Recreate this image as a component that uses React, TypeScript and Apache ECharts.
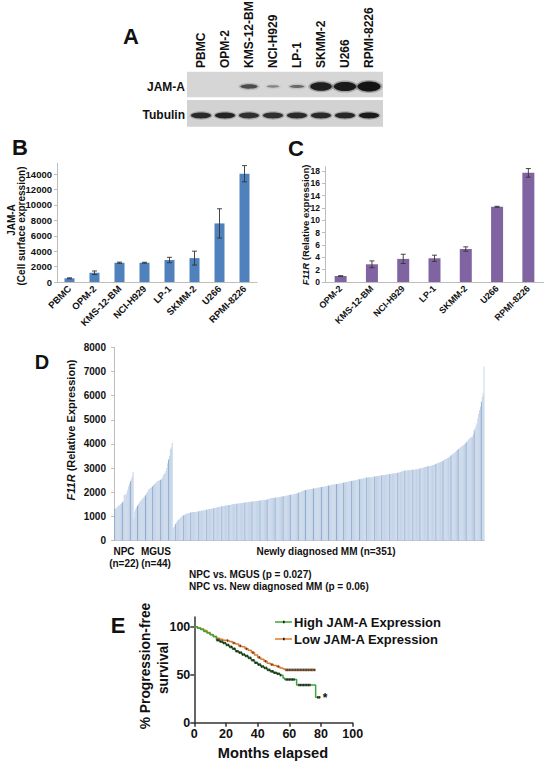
import React, { useEffect, useRef } from 'react';
import * as echarts from 'echarts';

const FONT = '"Liberation Sans", Arial, Helvetica, sans-serif';

// ---------- Panel A (western blot) ----------
const blotLanes = ['PBMC', 'OPM-2', 'KMS-12-BM', 'NCI-H929', 'LP-1', 'SKMM-2', 'U266', 'RPMI-8226'];
const jamABand = [0, 0, 0.55, 0.18, 0.35, 0.9, 0.95, 1];
const tubulinBand = [0.85, 0.9, 0.82, 0.82, 0.85, 0.85, 0.87, 0.95];

// ---------- Panel B ----------
const catsB = ['PBMC', 'OPM-2', 'KMS-12-BM', 'NCI-H929', 'LP-1', 'SKMM-2', 'U266', 'RPMI-8226'];
const valsB = [480, 1200, 2500, 2500, 2850, 3100, 7600, 14050];
const errB = [60, 230, 80, 60, 350, 900, 1900, 1050];

// ---------- Panel C ----------
const catsC = ['OPM-2', 'KMS-12-BM', 'NCI-H929', 'LP-1', 'SKMM-2', 'U266', 'RPMI-8226'];
const valsC = [0.97, 2.87, 3.75, 3.85, 5.35, 12.2, 17.7];
const errC = [0.05, 0.55, 0.75, 0.5, 0.35, 0.08, 0.7];

// ---------- Panel D ----------
const npcVals = [1300, 1320, 1340, 1380, 1420, 1450, 1470, 1500, 1530, 1580, 1620, 1880, 1890, 1900, 1980, 2100, 2250, 2350, 2450, 2550, 2650, 2850];
const mgusVals = [900, 1200, 1300, 1380, 1450, 1500, 1560, 1620, 1670, 1700, 1750, 1780, 1820, 1870, 1950, 2000, 2080, 2120, 2150, 2170, 2200, 2250, 2300, 2340, 2360, 2400, 2440, 2460, 2480, 2500, 2520, 2540, 2600, 2700, 2750, 2800, 2880, 3000, 3200, 3350, 3500, 3780, 3850, 4050];
const mmVals = [
  510, 560, 620, 690, 760, 820, 860, 880, 920, 960,
  990, 1020, 1050, 1070, 1090, 1110, 1120, 1130, 1140, 1150,
  1160, 1165, 1170, 1175, 1180, 1185, 1190, 1195, 1200, 1210,
  1220, 1225, 1235, 1240, 1245, 1250, 1260, 1270, 1275, 1280,
  1290, 1300, 1305, 1315, 1320, 1330, 1340, 1350, 1360, 1370,
  1375, 1385, 1390, 1400, 1410, 1415, 1420, 1430, 1440, 1445,
  1450, 1455, 1460, 1470, 1475, 1480, 1490, 1500, 1505, 1510,
  1515, 1520, 1525, 1530, 1535, 1540, 1545, 1550, 1555, 1560,
  1565, 1570, 1575, 1580, 1585, 1590, 1595, 1600, 1605, 1610,
  1615, 1620, 1625, 1630, 1635, 1640, 1645, 1650, 1655, 1660,
  1665, 1670, 1675, 1678, 1680, 1690, 1700, 1710, 1720, 1735,
  1750, 1755, 1760, 1765, 1770, 1775, 1780, 1785, 1790, 1800,
  1805, 1810, 1815, 1820, 1828, 1836, 1844, 1852, 1860, 1868,
  1875, 1882, 1890, 1897, 1905, 1912, 1920, 1930, 1940, 1950,
  1960, 1975, 1990, 2005, 2020, 2035, 2050, 2070, 2078, 2086,
  2094, 2100, 2108, 2115, 2122, 2130, 2137, 2144, 2150, 2157,
  2164, 2171, 2178, 2185, 2192, 2200, 2207, 2214, 2221, 2228,
  2235, 2242, 2250, 2258, 2266, 2274, 2282, 2290, 2298, 2306,
  2314, 2320, 2326, 2332, 2336, 2340, 2348, 2356, 2364, 2372,
  2380, 2388, 2396, 2404, 2412, 2420, 2428, 2436, 2444, 2452,
  2460, 2468, 2476, 2484, 2492, 2500, 2508, 2516, 2524, 2532,
  2540, 2548, 2556, 2564, 2572, 2580, 2588, 2596, 2604, 2612,
  2616, 2618, 2620, 2626, 2632, 2638, 2644, 2650, 2656, 2662,
  2668, 2674, 2680, 2686, 2692, 2698, 2704, 2710, 2716, 2722,
  2728, 2734, 2740, 2746, 2752, 2758, 2764, 2770, 2776, 2782,
  2788, 2794, 2800, 2806, 2812, 2820, 2836, 2852, 2868, 2880,
  2890, 2894, 2898, 2902, 2906, 2910, 2914, 2918, 2922, 2926,
  2930, 2934, 2938, 2942, 2946, 2950, 2960, 2970, 2980, 2990,
  3000, 3010, 3020, 3030, 3040, 3050, 3060, 3070, 3080, 3090,
  3100, 3110, 3120, 3130, 3145, 3160, 3175, 3190, 3205, 3220,
  3235, 3250, 3265, 3280, 3300, 3330, 3350, 3370, 3390, 3415,
  3440, 3460, 3500, 3530, 3560, 3590, 3610, 3640, 3680, 3720,
  3750, 3780, 3810, 3840, 3870, 3900, 3925, 3950, 3990, 4030,
  4070, 4110, 4150, 4190, 4230, 4260, 4280, 4300, 4400, 4550,
  4650, 4750, 4850, 5050, 5250, 5400, 5540, 5750, 5950, 6100, 7200,
];

// ---------- Panel E (Kaplan-Meier) ----------
const highKM = [[0, 100], [2, 98.5], [4, 97], [6, 95], [8, 93.5], [10, 91.5], [12, 89.5], [14, 86], [16, 84.5], [18, 83], [20, 81], [22, 79], [24, 77], [26, 74.5], [28, 73], [30, 71], [32, 69.5], [34, 67.5], [36, 65], [38, 62.5], [40, 60.5], [42, 58.5], [44, 57], [46, 55], [48, 53.5], [50, 52], [52, 51], [54, 49.5], [56, 46.5], [57, 45], [64.6, 39.2], [76.6, 26.4], [79.8, 26.4]];
const lowKM = [[0, 100], [2, 99], [4, 97.5], [6, 96], [8, 94], [10, 92], [12, 90], [14, 88], [16, 87], [18, 86], [20, 85.5], [22, 84.5], [24, 83], [26, 82], [28, 80], [30, 79], [32, 77], [34, 75.5], [36, 73], [38, 70.5], [40, 68], [42, 66], [44, 64], [46, 62], [48, 60.5], [50, 59.5], [52, 58.5], [54, 57], [56, 56], [57.3, 55], [76.6, 55]];
const highCensor = [[14.5, 86], [15.5, 86], [16.5, 84.5], [17.5, 84.5], [18.5, 83], [19.5, 83], [20.5, 81], [21.5, 81], [22.5, 79], [23.5, 79], [24.5, 77], [25.5, 77], [26.5, 74.5], [27.5, 74.5], [28.5, 73], [29.5, 73], [30.5, 71], [31.5, 71], [32.5, 69.5], [33.5, 69.5], [34.5, 67.5], [35.5, 67.5], [36.5, 65], [37.5, 65], [38.5, 62.5], [39.5, 62.5], [40.5, 60.5], [41.5, 60.5], [42.5, 58.5], [43.5, 58.5], [44.5, 57], [45.5, 57], [46.5, 55], [47.5, 55], [48.5, 53.5], [49.5, 53.5], [50.5, 52], [51.5, 52], [52.5, 51], [53.5, 51], [54.5, 49.5], [58, 45], [59, 45], [60, 45], [61, 45], [62, 45], [63, 45], [66, 39.2], [67, 39.2], [68, 39.2], [69, 39.2], [70, 39.2], [71, 39.2], [72, 39.2], [73, 39.2], [78, 26.4], [79, 26.4]];
const lowCensor = [[21, 85.5], [25, 83], [29, 80], [33, 77], [37, 73], [41, 68], [45, 64], [49, 60.5], [53, 58.5], [58, 55], [59, 55], [60, 55], [61, 55], [62, 55], [63, 55], [64, 55], [65, 55], [66, 55], [67, 55], [68, 55], [69, 55], [70, 55], [71, 55], [72, 55], [73, 55], [74, 55], [75, 55], [76, 55]];

const GREEN = '#3aa63a';
const ORANGE = '#e0782a';

function txt(x: number, y: number, text: string, size: number, opts: any = {}) {
  const align = opts.align || 'center';
  const va = opts.va || 'middle';
  return {
    type: 'text',
    x,
    y,
    rotation: opts.rot || 0,
    silent: true,
    z: 100,
    style: {
      text,
      fontSize: size,
      fontWeight: opts.weight || 'bold',
      fontFamily: FONT,
      fill: opts.fill || '#111',
      align,
      verticalAlign: va,
      textAlign: align,
      textVerticalAlign: va,
      rich: opts.rich,
    },
  };
}

function errorSeries(xIdx: number, vals: number[], errs: number[], capW: number) {
  return {
    type: 'custom',
    xAxisIndex: xIdx,
    yAxisIndex: xIdx,
    data: vals.map((v, i) => [i, v - errs[i], v + errs[i]]),
    z: 5,
    renderItem: (params: any, api: any) => {
      const i = api.value(0);
      const lo = api.coord([i, api.value(1)]);
      const hi = api.coord([i, api.value(2)]);
      const st = { stroke: '#333', lineWidth: 0.9 };
      return {
        type: 'group',
        children: [
          { type: 'line', shape: { x1: hi[0], y1: hi[1], x2: lo[0], y2: lo[1] }, style: st },
          { type: 'line', shape: { x1: hi[0] - capW, y1: hi[1], x2: hi[0] + capW, y2: hi[1] }, style: st },
          { type: 'line', shape: { x1: lo[0] - capW, y1: lo[1], x2: lo[0] + capW, y2: lo[1] }, style: st },
        ],
      };
    },
  };
}

function buildOption() {
  const dValues = [...npcVals, ...mgusVals, ...mmVals];
  const dCats = dValues.map((_, i) => String(i));
  const isStripe = (i: number) => Math.floor(i / 8.6) !== Math.floor((i - 1) / 8.6);
  const dData = dValues.map((v, i) => ({
    value: v,
    itemStyle: { color: isStripe(i) ? '#8aa5cc' : '#c3d3e7' },
  }));

  const grayAxis = { lineStyle: { color: '#bdbdbd', width: 1 } };
  const plain = (v: number) => String(v);
  const tickLabel = (size: number, margin: number) => ({
    fontSize: size,
    fontWeight: 'bold',
    fontFamily: FONT,
    color: '#111',
    margin,
  });

  const graphic: any[] = [];

  // Panel letters
  graphic.push(txt(131, 36, 'A', 22));
  graphic.push(txt(20, 147, 'B', 22));
  graphic.push(txt(296, 148, 'C', 22));
  graphic.push(txt(42, 362, 'D', 20));
  graphic.push(txt(118, 625, 'E', 22));

  // Panel A blot
  const laneX0 = 201;
  const laneStep = 24;
  graphic.push({ type: 'rect', shape: { x: 187, y: 71.7, width: 196, height: 25.6 }, style: { fill: '#d6d6d6' }, silent: true });
  graphic.push({ type: 'rect', shape: { x: 187, y: 100, width: 196, height: 26.7 }, style: { fill: '#d2d2d2' }, silent: true });
  blotLanes.forEach((name, i) => {
    const cx = laneX0 + laneStep * i;
    graphic.push(txt(cx, 68, name, 12, { rot: Math.PI / 2, align: 'left' }));
    const v = jamABand[i];
    if (v > 0) {
      const w = 10 + 13 * v;
      const h = 2 + 8 * v * v;
      graphic.push({ type: 'ellipse', shape: { cx, cy: 86.5, rx: w / 2 + 2, ry: h / 2 + 1.5 }, style: { fill: `rgba(40,40,40,${0.3 * v})` }, silent: true });
      graphic.push({ type: 'ellipse', shape: { cx, cy: 86.5, rx: w / 2, ry: h / 2 }, style: { fill: `rgba(15,15,15,${0.25 + 0.72 * v})` }, silent: true });
    }
    const t = tubulinBand[i];
    graphic.push({ type: 'ellipse', shape: { cx, cy: 115.5, rx: 11.5, ry: 4.2 }, style: { fill: `rgba(50,50,50,${0.3 * t})` }, silent: true });
    graphic.push({ type: 'ellipse', shape: { cx, cy: 115.5, rx: 10, ry: 2.9 }, style: { fill: `rgba(20,20,20,${t})` }, silent: true });
  });
  graphic.push(txt(185, 87, 'JAM-A', 12, { align: 'right' }));
  graphic.push(txt(185, 115, 'Tubulin', 12, { align: 'right' }));

  // Panel B titles
  graphic.push(txt(11, 220, 'JAM-A', 10, { rot: Math.PI / 2 }));
  graphic.push(txt(21, 226, '(Cell surface expression)', 10, { rot: Math.PI / 2 }));

  // Panel C title
  graphic.push(txt(305, 225, '{i|F11R} (Relative expression)', 9.5, {
    rot: Math.PI / 2,
    rich: { i: { fontStyle: 'italic', fontWeight: 'bold', fontSize: 9.5, fontFamily: FONT, fill: '#111' } },
  }));

  // Panel D titles / labels
  graphic.push(txt(71, 430, '{i|F11R} (Relative Expression)', 11, {
    rot: Math.PI / 2,
    rich: { i: { fontStyle: 'italic', fontWeight: 'bold', fontSize: 11, fontFamily: FONT, fill: '#111' } },
  }));
  graphic.push(txt(124, 551, 'NPC', 10));
  graphic.push(txt(124, 563, '(n=22)', 10));
  graphic.push(txt(156, 551, 'MGUS', 10));
  graphic.push(txt(156, 563, '(n=44)', 10));
  graphic.push(txt(326, 551, 'Newly diagnosed MM (n=351)', 10));
  graphic.push(txt(189, 574, 'NPC vs. MGUS (p = 0.027)', 10, { align: 'left' }));
  graphic.push(txt(189, 586, 'NPC vs. New diagnosed MM (p = 0.06)', 10, { align: 'left' }));

  // Panel E titles / legend
  graphic.push(txt(145, 666, '% Progression-free', 13.8, { rot: Math.PI / 2 }));
  graphic.push(txt(163, 668, 'survival', 13.8, { rot: Math.PI / 2 }));
  graphic.push(txt(273, 753, 'Months elapsed', 14.6));
  graphic.push({ type: 'line', shape: { x1: 275, y1: 622, x2: 292, y2: 622 }, style: { stroke: GREEN, lineWidth: 1.5 }, silent: true });
  graphic.push({ type: 'rect', shape: { x: 283, y: 620.8, width: 1.6, height: 2.4 }, style: { fill: '#111' }, silent: true });
  graphic.push({ type: 'line', shape: { x1: 275, y1: 639, x2: 292, y2: 639 }, style: { stroke: ORANGE, lineWidth: 1.5 }, silent: true });
  graphic.push({ type: 'rect', shape: { x: 283, y: 637.8, width: 1.6, height: 2.4 }, style: { fill: '#111' }, silent: true });
  graphic.push(txt(294, 622, 'High JAM-A Expression', 13, { align: 'left' }));
  graphic.push(txt(294, 639, 'Low JAM-A Expression', 13, { align: 'left' }));
  graphic.push(txt(325, 698, '*', 12));

  return {
    animation: false,
    backgroundColor: '#ffffff',
    grid: [
      { left: 57, top: 163.3, width: 200, height: 118.7 },
      { left: 325, top: 166.7, width: 219, height: 115.3 },
      { left: 114, top: 347.3, width: 370.5, height: 193.2 },
      { left: 194.3, top: 617.1, width: 158.4, height: 105.6 },
    ],
    xAxis: [
      {
        type: 'category', gridIndex: 0, data: catsB,
        axisLine: grayAxis, axisTick: { length: 3, lineStyle: { color: '#bdbdbd' } },
        axisLabel: { ...tickLabel(9.5, 5), rotate: 45, interval: 0 },
      },
      {
        type: 'category', gridIndex: 1, data: catsC,
        axisLine: grayAxis, axisTick: { length: 3, lineStyle: { color: '#bdbdbd' } },
        axisLabel: { ...tickLabel(9, 5), rotate: 45, interval: 0 },
      },
      {
        type: 'category', gridIndex: 2, data: dCats,
        axisLine: grayAxis, axisTick: { show: false }, axisLabel: { show: false },
      },
      {
        type: 'value', gridIndex: 3, min: 0, max: 100, interval: 20,
        axisLine: { lineStyle: { color: '#333', width: 1.5 } },
        axisTick: { show: true, length: 4, lineStyle: { color: '#333', width: 1.5 } },
        axisLabel: { ...tickLabel(12.5, 5), formatter: plain }, splitLine: { show: false },
      },
    ],
    yAxis: [
      {
        type: 'value', gridIndex: 0, min: 0, max: 15400, interval: 2000,
        axisLine: { show: true, ...grayAxis }, axisTick: { show: true, length: 3, lineStyle: { color: '#bdbdbd' } },
        axisLabel: { ...tickLabel(9.5, 5), showMaxLabel: false, formatter: plain }, splitLine: { show: false },
      },
      {
        type: 'value', gridIndex: 1, min: 0, max: 18.7, interval: 2,
        axisLine: { show: true, ...grayAxis }, axisTick: { show: true, length: 3, lineStyle: { color: '#bdbdbd' } },
        axisLabel: { ...tickLabel(8.5, 5), showMaxLabel: false, formatter: plain }, splitLine: { show: false },
      },
      {
        type: 'value', gridIndex: 2, min: 0, max: 8000, interval: 1000,
        axisLine: { show: true, ...grayAxis }, axisTick: { show: true, length: 3, lineStyle: { color: '#bdbdbd' } },
        axisLabel: { ...tickLabel(10, 8), formatter: plain }, splitLine: { show: false },
      },
      {
        type: 'value', gridIndex: 3, min: 0, max: 110, interval: 50,
        axisLine: { show: true, lineStyle: { color: '#333', width: 1.5 } },
        axisTick: { show: true, length: 4, lineStyle: { color: '#333', width: 1.5 } },
        axisLabel: { ...tickLabel(12.5, 4), showMaxLabel: false, formatter: plain }, splitLine: { show: false },
      },
    ],
    series: [
      { type: 'bar', xAxisIndex: 0, yAxisIndex: 0, data: valsB, barWidth: 10, itemStyle: { color: '#4f81bd' } },
      errorSeries(0, valsB, errB, 2.5),
      { type: 'bar', xAxisIndex: 1, yAxisIndex: 1, data: valsC, barWidth: 12, itemStyle: { color: '#8064a2' } },
      errorSeries(1, valsC, errC, 2.5),
      { type: 'bar', xAxisIndex: 2, yAxisIndex: 2, data: dData, barCategoryGap: '0%', barWidth: '100%' },
      {
        type: 'line', xAxisIndex: 3, yAxisIndex: 3, data: lowKM, step: 'end', symbol: 'none',
        lineStyle: { color: ORANGE, width: 1.5 }, z: 3,
      },
      {
        type: 'line', xAxisIndex: 3, yAxisIndex: 3, data: highKM, step: 'end', symbol: 'none',
        lineStyle: { color: GREEN, width: 1.5 }, z: 4,
      },
      {
        type: 'scatter', xAxisIndex: 3, yAxisIndex: 3, data: lowCensor, symbol: 'rect',
        symbolSize: [1.4, 2.6], itemStyle: { color: '#3a2a1a' }, z: 5,
      },
      {
        type: 'scatter', xAxisIndex: 3, yAxisIndex: 3, data: highCensor, symbol: 'rect',
        symbolSize: [1.4, 2.6], itemStyle: { color: '#111' }, z: 5,
      },
    ],
    graphic,
  };
}

export default function App() {
  const ref = useRef<HTMLDivElement>(null);
  useEffect(() => {
    if (!ref.current) return;
    const chart = echarts.init(ref.current, null, { renderer: 'svg' });
    chart.setOption(buildOption() as any);
    return () => chart.dispose();
  }, []);
  return (
    <div
      ref={ref}
      style={{ position: 'absolute', left: 0, top: 0, width: 544, height: 763, background: '#fff' }}
    />
  );
}
